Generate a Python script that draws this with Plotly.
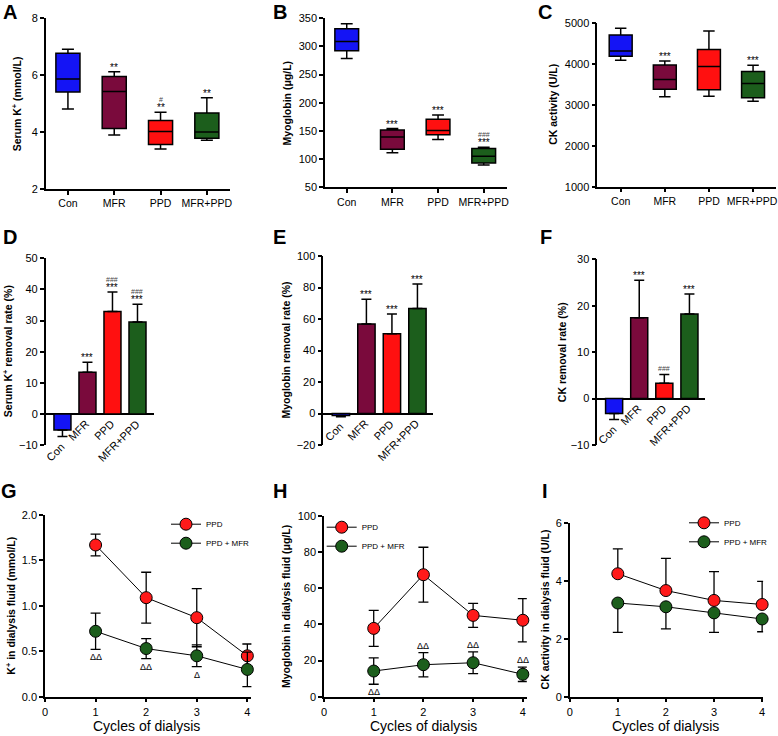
import plotly.graph_objects as go

W, H = 778, 736
FONT = "Liberation Sans, Arial, sans-serif"

# ---------------- data ----------------
groups = ["Con", "MFR", "PPD", "MFR+PPD"]
group_colors = ["#1414F5", "#7A0A3C", "#FF1010", "#1C5E1C"]

# A: Serum K+ (mmol/L) box statistics
a_min = [4.81, 3.90, 3.41, 3.71]
a_q1 = [5.41, 4.13, 3.56, 3.78]
a_med = [5.87, 5.43, 4.02, 4.00]
a_q3 = [6.77, 5.95, 4.41, 4.67]
a_max = [6.91, 6.12, 4.70, 5.21]
a_star = ["", "**", "**", "**"]
a_hash = ["", "", "#", ""]

# B: Myoglobin (ug/L)
b_min = [278.8, 111.2, 135.0, 89.6]
b_q1 = [292.5, 117.6, 143.5, 93.2]
b_med = [309.0, 139.2, 150.7, 105.0]
b_q3 = [331.6, 151.8, 171.0, 118.9]
b_max = [340.5, 154.3, 178.2, 121.3]
b_star = ["", "***", "***", "***"]
b_hash = ["", "", "", "###"]

# C: CK activity (U/L)
c_min = [4089, 3195, 3211, 3089]
c_q1 = [4187, 3382, 3366, 3171]
c_med = [4317, 3618, 3935, 3520]
c_q3 = [4707, 3976, 4350, 3813]
c_max = [4870, 4073, 4805, 3967]
c_star = ["", "***", "", "***"]
c_hash = ["", "", "", ""]

# D: Serum K+ removal rate (%)
d_mean = [-5.2, 13.4, 32.9, 29.5]
d_sd = [2.1, 3.2, 6.3, 5.7]
d_star = ["", "***", "***", "***"]
d_hash = ["", "", "###", "###"]

# E: Myoglobin removal rate (%)
e_mean = [-1.2, 56.8, 50.7, 66.6]
e_sd = [0.8, 15.7, 12.5, 15.6]
e_star = ["", "***", "***", "***"]
e_hash = ["", "", "", ""]

# F: CK removal rate (%)
f_mean = [-3.2, 17.4, 3.3, 18.2]
f_sd = [1.3, 8.1, 1.9, 4.3]
f_star = ["", "***", "", "***"]
f_hash = ["", "", "###", ""]

# G, H, I: dialysis cycles
cycles = [1, 2, 3, 4]
series_names = ["PPD", "PPD + MFR"]
series_colors = ["#FF1A1A", "#1C5E1C"]

g_ppd = [1.67, 1.09, 0.87, 0.45]
g_ppd_sd = [0.12, 0.28, 0.32, 0.13]
g_mix = [0.72, 0.53, 0.45, 0.30]
g_mix_sd = [0.20, 0.11, 0.12, 0.19]
g_delta = ["ΔΔ", "ΔΔ", "Δ", ""]
g_delta_pos = ["below", "below", "below", ""]

h_ppd = [37.8, 67.5, 45.0, 42.3]
h_ppd_sd = [10.0, 15.2, 6.6, 12.0]
h_mix = [14.2, 17.7, 18.8, 12.4]
h_mix_sd = [7.3, 6.7, 6.0, 4.0]
h_delta = ["ΔΔ", "ΔΔ", "ΔΔ", "ΔΔ"]
h_delta_pos = ["below", "above", "above", "above"]

i_ppd = [4.24, 3.66, 3.32, 3.18]
i_ppd_sd = [0.86, 1.11, 0.99, 0.80]
i_mix = [3.23, 3.10, 2.89, 2.68]
i_mix_sd = [1.01, 0.76, 0.67, 0.44]

# ---------------- helpers ----------------
def dx(x0, x1):
    return [x0 / W, x1 / W]

def dy(top, bot):
    return [1 - bot / H, 1 - top / H]

fig = go.Figure()
layout = dict(width=W, height=H, margin=dict(l=0, r=0, t=0, b=0, autoexpand=False),
              paper_bgcolor="white", plot_bgcolor="white",
              font=dict(family=FONT, size=11, color="black"),
              showlegend=True)
annotations = []

def yax(dom, rng, dtick, zeroline=False, fmt=None):
    d = dict(domain=dom, range=rng, dtick=dtick, tick0=rng[0] if not zeroline else 0,
             showline=True, linecolor="black", linewidth=1.5,
             ticks="outside", ticklen=4, tickwidth=1.5, tickcolor="black",
             showgrid=False, zeroline=zeroline, zerolinecolor="black", zerolinewidth=1.5,
             tickfont=dict(family=FONT, size=11), fixedrange=True)
    if fmt:
        d["tickformat"] = fmt
    return d

def xcat_ax(dom, rng, anchor, show_ticks=True, labels=None):
    if show_ticks:
        return dict(domain=dom, range=rng, anchor=anchor, tickvals=list(range(len(groups))),
                    ticktext=labels or groups, showline=True, linecolor="black", linewidth=1.5,
                    ticks="outside", ticklen=4, tickwidth=1.5, tickcolor="black",
                    showgrid=False, zeroline=False, tickfont=dict(family=FONT, size=10.5),
                    ticklabeloverflow="allow")
    return dict(domain=dom, range=rng, anchor=anchor, showticklabels=False, showline=False,
                ticks="", showgrid=False, zeroline=False)

def ylabel(text, xc, top, bot, size=10.5):
    annotations.append(dict(text=f"<b>{text}</b>", x=xc / W, y=1 - (top + bot) / 2 / H,
                            xref="paper", yref="paper", showarrow=False, textangle=-90,
                            xanchor="center", yanchor="middle",
                            font=dict(family=FONT, size=size, color="black")))

def letter(text, xc, yc):
    annotations.append(dict(text=f"<b>{text}</b>", x=xc / W, y=1 - yc / H, xref="paper", yref="paper",
                            showarrow=False, xanchor="center", yanchor="middle",
                            font=dict(family=FONT, size=20, color="black")))

def sig_marks(ax, tops, stars, hashes):
    for i, t in enumerate(tops):
        if stars[i]:
            annotations.append(dict(text=stars[i], x=i, y=t, xref="x" + ax, yref="y" + ax,
                                    showarrow=False, xanchor="center", yanchor="bottom",
                                    yshift=-3, font=dict(family=FONT, size=10, color="#000000")))
        if hashes[i]:
            shift = 7 if stars[i] else 0
            annotations.append(dict(text=hashes[i], x=i, y=t, xref="x" + ax, yref="y" + ax,
                                    showarrow=False, xanchor="center", yanchor="bottom",
                                    yshift=shift, font=dict(family=FONT, size=7, color="#444444")))

def box_panel(ax, mins, q1s, meds, q3s, maxs, stars, hashes):
    for i in range(len(groups)):
        fig.add_trace(go.Box(x=[i], q1=[q1s[i]], median=[meds[i]], q3=[q3s[i]],
                             lowerfence=[mins[i]], upperfence=[maxs[i]],
                             width=0.52, whiskerwidth=0.5, fillcolor=group_colors[i],
                             line=dict(color="black", width=1.5), boxpoints=False,
                             showlegend=False, hoverinfo="skip",
                             xaxis="x" + ax, yaxis="y" + ax))
    sig_marks(ax, maxs, stars, hashes)

def bar_panel(ax, means, sds, stars, hashes):
    up = [s if m >= 0 else 0 for m, s in zip(means, sds)]
    dn = [0 if m >= 0 else s for m, s in zip(means, sds)]
    fig.add_trace(go.Bar(x=list(range(len(groups))), y=means, width=0.68,
                         marker=dict(color=group_colors, line=dict(color="black", width=1.5)),
                         error_y=dict(type="data", array=up, arrayminus=dn, color="black",
                                      thickness=1.5, width=5),
                         showlegend=False, hoverinfo="skip", xaxis="x" + ax, yaxis="y" + ax))
    tops = [m + u for m, u in zip(means, up)]
    sig_marks(ax, tops, stars, hashes)
    for i, g in enumerate(groups):
        base = min(0, means[i] - dn[i])
        annotations.append(dict(text=g, x=i, y=base, xref="x" + ax, yref="y" + ax,
                                showarrow=False, textangle=-45, xanchor="right", yanchor="top",
                                xshift=7, yshift=-1,
                                font=dict(family=FONT, size=11, color="black")))

def line_panel(ax, legend_id, data, sds, up_only=None):
    for k, (vals, sd) in enumerate(zip(data, sds)):
        if up_only is None:
            arr, arrm = sd, sd
        else:
            arr = sd if up_only[k] else [0] * len(sd)
            arrm = [0] * len(sd) if up_only[k] else sd
        fig.add_trace(go.Scatter(x=cycles, y=vals, mode="lines+markers", name=series_names[k],
                                 line=dict(color="black", width=1),
                                 marker=dict(size=12, color=series_colors[k],
                                             line=dict(color="black", width=1)),
                                 error_y=dict(type="data", array=arr, arrayminus=arrm,
                                              color="black", thickness=1.3, width=5),
                                 cliponaxis=False, legend=legend_id, hoverinfo="skip",
                                 xaxis="x" + ax, yaxis="y" + ax))

def delta_marks(ax, labels, pos, vals, sds):
    for i, lab in enumerate(labels):
        if not lab:
            continue
        if pos[i] == "below":
            y = vals[i] - sds[i]
            annotations.append(dict(text=lab, x=cycles[i], y=y, xref="x" + ax, yref="y" + ax,
                                    showarrow=False, xanchor="center", yanchor="top", yshift=-1,
                                    font=dict(family=FONT, size=9, color="black")))
        else:
            y = vals[i] + sds[i]
            annotations.append(dict(text=lab, x=cycles[i], y=y, xref="x" + ax, yref="y" + ax,
                                    showarrow=False, xanchor="center", yanchor="bottom", yshift=0,
                                    font=dict(family=FONT, size=9, color="black")))

# ---------------- row 1: box plots ----------------
panels_box = [
    ("", (45.7, 230), (18.3, 189), [-0.48, 3.5], [2, 8], 2, None),
    ("2", (325, 507), (18.3, 187.3), [-0.476, 3.51], [50, 350], 50, None),
    ("3", (597.3, 776), (23, 186.7), [-0.53, 3.52], [1000, 5000], 1000,
     groups[:3] + [groups[3] + "\u2009"]),
]
for ax, xs, ys, xr, yr, dt, labs in panels_box:
    layout["xaxis" + ax] = xcat_ax(dx(*xs), xr, "y" + ax, labels=labs)
    layout["yaxis" + ax] = yax(dy(*ys), yr, dt)
    layout["yaxis" + ax]["anchor"] = "x" + ax

box_panel("", a_min, a_q1, a_med, a_q3, a_max, a_star, a_hash)
box_panel("2", b_min, b_q1, b_med, b_q3, b_max, b_star, b_hash)
box_panel("3", c_min, c_q1, c_med, c_q3, c_max, c_star, c_hash)

# ---------------- row 2: bar charts ----------------
panels_bar = [
    ("4", (45.7, 154), (258.3, 445), [-0.67, 3.66], [-10, 50], 10),
    ("5", (323.3, 433), (256, 445), [-0.69, 3.61], [-20, 100], 20),
    ("6", (597.3, 705), (259.3, 445), [-0.67, 3.62], [-10, 30], 10),
]
for ax, xs, ys, xr, yr, dt in panels_bar:
    layout["xaxis" + ax] = xcat_ax(dx(*xs), xr, "y" + ax, show_ticks=False)
    layout["yaxis" + ax] = yax(dy(*ys), yr, dt, zeroline=True)
    layout["yaxis" + ax]["anchor"] = "x" + ax

bar_panel("4", d_mean, d_sd, d_star, d_hash)
bar_panel("5", e_mean, e_sd, e_star, e_hash)
bar_panel("6", f_mean, f_sd, f_star, f_hash)

# ---------------- row 3: line charts ----------------
panels_line = [
    ("7", (45, 251.4), (515, 696.7), [0, 4.08], [0, 2], 0.5, ".1f"),
    ("8", (324, 526.8), (516, 696.7), [0, 4.08], [0, 100], 20, None),
    ("9", (569.7, 763.1), (522.7, 696.7), [0, 4.02], [0, 6], 2, None),
]
for ax, xs, ys, xr, yr, dt, fmt in panels_line:
    layout["xaxis" + ax] = dict(domain=dx(*xs), range=xr, anchor="y" + ax, dtick=1, tick0=0,
                                showline=True, linecolor="black", linewidth=1.5,
                                ticks="outside", ticklen=4, tickwidth=1.5, tickcolor="black",
                                showgrid=False, zeroline=False,
                                tickfont=dict(family=FONT, size=11))
    layout["yaxis" + ax] = yax(dy(*ys), yr, dt, fmt=fmt)
    layout["yaxis" + ax]["anchor"] = "x" + ax

line_panel("7", "legend", [g_ppd, g_mix], [g_ppd_sd, g_mix_sd])
line_panel("8", "legend2", [h_ppd, h_mix], [h_ppd_sd, h_mix_sd])
line_panel("9", "legend3", [i_ppd, i_mix], [i_ppd_sd, i_mix_sd], up_only=[True, False])
delta_marks("7", g_delta, g_delta_pos, g_mix, g_mix_sd)
delta_marks("8", h_delta, h_delta_pos, h_mix, h_mix_sd)

leg_common = dict(xanchor="left", yanchor="top", bgcolor="rgba(0,0,0,0)",
                  font=dict(family=FONT, size=8, color="black"), itemwidth=30,
                  tracegroupgap=0)
layout["legend"] = dict(x=166 / W, y=1 - 509.7 / H, **leg_common)
layout["legend2"] = dict(x=321.7 / W, y=1 - 512.7 / H, **leg_common)
layout["legend3"] = dict(x=684 / W, y=1 - 508.3 / H, **leg_common)

# ---------------- titles ----------------
ylabel("Serum K<sup>+</sup> (mmol/L)", 16.7, 18.3, 189)
ylabel("Myoglobin (μg/L)", 286.7, 18.3, 187.3)
ylabel("CK activity (U/L)", 553, 23, 186.7)
ylabel("Serum K<sup>+</sup> removal rate (%)", 7.5, 258.3, 445)
ylabel("Myoglobin removal rate (%)", 285, 256, 445)
ylabel("CK removal rate (%)", 562, 259.3, 445)
ylabel("K<sup>+</sup> in dialysis fluid (mmol/L)", 10.8, 515, 696.7)
ylabel("Myoglobin in dialysis fluid (μg/L)", 286.7, 516, 696.7)
ylabel("CK activity in dialysis fluid (U/L)", 544.7, 522.7, 696.7)

for xc in (146.7, 424, 665.8):
    annotations.append(dict(text="Cycles of dialysis", x=xc / W, y=1 - 725.5 / H,
                            xref="paper", yref="paper", showarrow=False,
                            xanchor="center", yanchor="middle",
                            font=dict(family=FONT, size=14, color="black")))

for t, xc, yc in [("A", 9.7, 11.7), ("B", 280.3, 11.7), ("C", 544.7, 11.7),
                  ("D", 10, 237.5), ("E", 279, 237.5), ("F", 545.5, 237.5),
                  ("G", 9.2, 490.8), ("H", 280.3, 490.8), ("I", 545, 490.8)]:
    letter(t, xc, yc)

layout["annotations"] = annotations
fig.update_layout(**layout)
fig.write_html("out.html", config={"displayModeBar": False},
               post_script="document.body.style.margin='0';document.body.style.padding='0';")
